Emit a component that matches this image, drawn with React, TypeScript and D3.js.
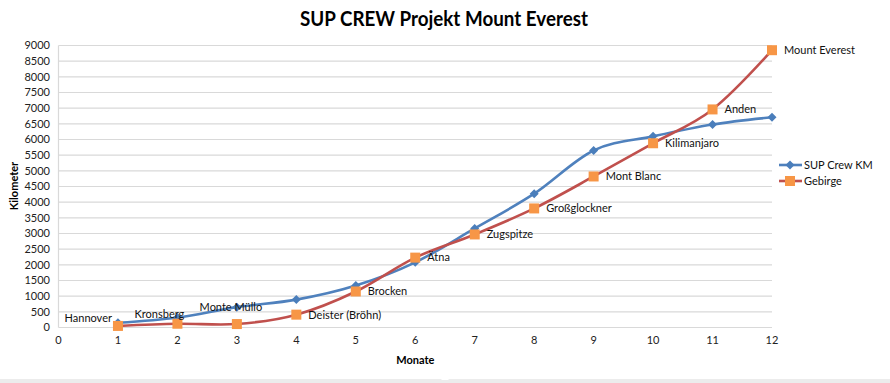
import React from "react";
import * as d3 from "d3";

const months = [1, 2, 3, 4, 5, 6, 7, 8, 9, 10, 11, 12];
const supCrewKm = [150, 320, 650, 890, 1340, 2080, 3160, 4270, 5650, 6100, 6480, 6710];
const gebirge = [50, 120, 110, 410, 1150, 2230, 2970, 3800, 4820, 5880, 6960, 8850];
const gebirgeLabels = [
  "Hannover", "Kronsberg", "Monte Müllo", "Deister (Bröhn)", "Brocken", "Ätna",
  "Zugspitze", "Großglockner", "Mont Blanc", "Kilimanjaro", "Anden", "Mount Everest",
];
const xTicks = [0, 1, 2, 3, 4, 5, 6, 7, 8, 9, 10, 11, 12];
const yTicks = d3.range(0, 9001, 500);
const seriesNames = ["SUP Crew KM", "Gebirge"];

const W = 890;
const H = 383;
const FONT = "Lato, 'Liberation Sans', sans-serif";

// label placement tweaks (layout only)
const labelPlacement: { dx: number; dy: number; anchor: string }[] = [
  { dx: -6, dy: -8, anchor: "end" },
  { dx: -18, dy: -10, anchor: "middle" },
  { dx: -6, dy: -17, anchor: "middle" },
];

export default function App() {
  const x = d3.scaleLinear().domain([0, 12]).range([58.5, 772]);
  const y = d3.scaleLinear().domain([0, 9000]).range([327.5, 45.5]);
  const line = d3
    .line<number>()
    .x((_, i) => x(months[i]))
    .y((d) => y(d))
    .curve(d3.curveCardinal.tension(0));

  const blue = "#4f81bd";
  const blueMarker = "#4a7ebb";
  const red = "#c0504d";
  const orange = "#f79646";
  const grid = "#d9d9d9";

  const diamond = (cx: number, cy: number, r: number) =>
    `M${cx},${cy - r}L${cx + r},${cy}L${cx},${cy + r}L${cx - r},${cy}Z`;

  return (
    <div style={{ position: "fixed", left: 0, top: 0 }}>
      <style>{"body{margin:0}"}</style>
      <svg width={W} height={H} style={{ display: "block", background: "#fff" }}>
        {/* title */}
        <text
          x={444}
          y={26}
          textAnchor="middle"
          fontFamily={FONT}
          fontWeight="bold"
          fontSize={20}
          textLength={288}
          lengthAdjust="spacingAndGlyphs"
          fill="#000"
        >
          SUP CREW Projekt Mount Everest
        </text>

        {/* gridlines */}
        {yTicks.map((t) => (
          <line key={t} x1={x(0)} x2={x(12)} y1={y(t)} y2={y(t)} stroke={grid} strokeWidth={1.2} />
        ))}
        <line x1={x(0)} x2={x(0)} y1={y(9000)} y2={y(0)} stroke={grid} strokeWidth={1.2} />

        {/* y tick labels */}
        {yTicks.map((t) => (
          <text
            key={t}
            x={50}
            y={y(t)}
            dy="0.35em"
            textAnchor="end"
            fontFamily={FONT}
            fontSize={11}
            fill="#222"
          >
            {t}
          </text>
        ))}
        {/* x tick labels */}
        {xTicks.map((t) => (
          <text key={t} x={x(t)} y={344} textAnchor="middle" fontFamily={FONT} fontSize={11} fill="#222">
            {t}
          </text>
        ))}

        {/* axis titles */}
        <text
          x={x(6)}
          y={364}
          textAnchor="middle"
          fontFamily={FONT}
          fontWeight="bold"
          fontSize={11}
          fill="#000"
        >
          Monate
        </text>
        <text
          transform={`translate(18,${186}) rotate(-90)`}
          textAnchor="middle"
          fontFamily={FONT}
          fontWeight="bold"
          fontSize={11}
          fill="#000"
        >
          Kilometer
        </text>

        {/* blue series */}
        <path d={line(supCrewKm) || ""} fill="none" stroke={blue} strokeWidth={2.6} />
        {supCrewKm.map((v, i) => (
          <path key={i} d={diamond(x(months[i]), y(v), 4.5)} fill={blueMarker} />
        ))}

        {/* red/orange series */}
        <path d={line(gebirge) || ""} fill="none" stroke={red} strokeWidth={2.6} />
        {gebirge.map((v, i) => (
          <rect key={i} x={x(months[i]) - 5} y={y(v) - 5} width={10} height={10} fill={orange} />
        ))}

        {/* data labels */}
        {gebirge.map((v, i) => {
          const p = labelPlacement[i] || { dx: 12, dy: 0, anchor: "start" };
          return (
            <text
              key={i}
              x={x(months[i]) + p.dx}
              y={y(v) + p.dy}
              dy="0.35em"
              textAnchor={p.anchor}
              fontFamily={FONT}
              fontSize={11}
              fill="#111"
            >
              {gebirgeLabels[i]}
            </text>
          );
        })}

        {/* legend */}
        {seriesNames.map((name, i) => {
          const ly = 165 + i * 16;
          return (
            <g key={name}>
              <line x1={779} x2={802} y1={ly} y2={ly} stroke={i === 0 ? blue : red} strokeWidth={2.6} />
              {i === 0 ? (
                <path d={diamond(790, ly, 4.5)} fill={blueMarker} />
              ) : (
                <rect x={785} y={ly - 5} width={10} height={10} fill={orange} />
              )}
              <text x={804} y={ly} dy="0.35em" fontFamily={FONT} fontSize={11} fill="#111">
                {name}
              </text>
            </g>
          );
        })}

        {/* bottom band */}
        <rect x={0} y={379} width={W} height={4} fill="#ececec" />
        <path d="M441,380L445,376L449,380Z" fill="#fff" />
      </svg>
    </div>
  );
}
